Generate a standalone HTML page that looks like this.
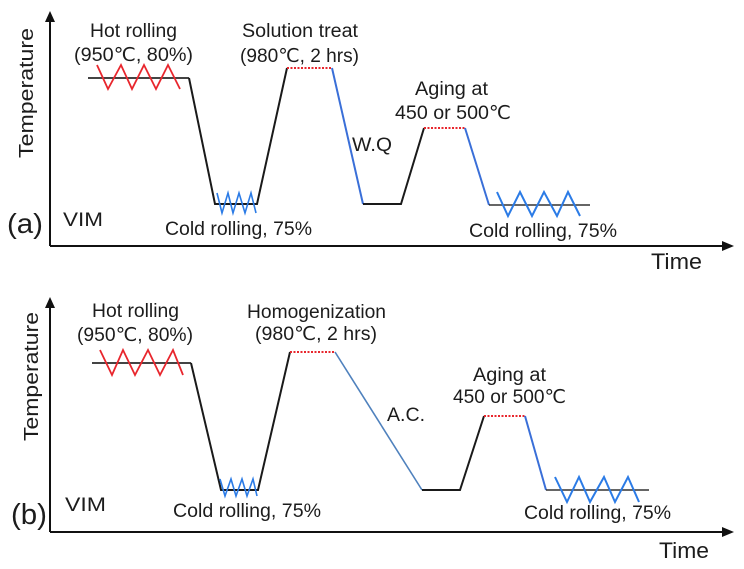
<!DOCTYPE html>
<html>
<head>
<meta charset="utf-8">
<style>
  html, body { margin: 0; padding: 0; background: #ffffff; }
  svg { display: block; }
  text { font-family: "Liberation Sans", "DejaVu Sans", "Noto Sans CJK SC", sans-serif; fill: #1c1c1c; }
</style>
</head>
<body>
<svg width="744" height="569" viewBox="0 0 744 569" xmlns="http://www.w3.org/2000/svg">
  <rect x="0" y="0" width="744" height="569" fill="#ffffff"/>

  <!-- ============ PANEL (a) ============ -->
  <!-- axes -->
  <line x1="50" y1="246" x2="50" y2="20" stroke="#111" stroke-width="2"/>
  <polygon points="50,11 45,22 55,22" fill="#111"/>
  <line x1="50" y1="246" x2="724" y2="246" stroke="#111" stroke-width="2"/>
  <polygon points="734,246 722,241 722,251" fill="#111"/>

  <!-- hot rolling plateau -->
  <line x1="88" y1="78" x2="189" y2="78" stroke="#2a2a2a" stroke-width="1.8"/>
  <polyline points="97,65 108,89 121,65 132,89 144,65 156,89 168,65 180,89" fill="none" stroke="#e8262d" stroke-width="1.8"/>
  <!-- black path -->
  <polyline points="189,78 215,204 257,204 287,68" fill="none" stroke="#1a1a1a" stroke-width="2"/>
  <polyline points="217,193 222,213 228,193 233,213 239,193 245,213 251,193 256,213" fill="none" stroke="#2b7be6" stroke-width="1.6"/>
  <line x1="287" y1="68" x2="332" y2="68" stroke="#e8262d" stroke-width="2" stroke-dasharray="2 1.5"/>
  <line x1="332" y1="68" x2="363" y2="204" stroke="#3a6fd8" stroke-width="2"/>
  <polyline points="363,204 401,204 424,128" fill="none" stroke="#1a1a1a" stroke-width="2"/>
  <line x1="424" y1="128" x2="465" y2="128" stroke="#e8262d" stroke-width="2" stroke-dasharray="2 1.5"/>
  <line x1="465" y1="128" x2="489" y2="205" stroke="#3a6fd8" stroke-width="2"/>
  <line x1="489" y1="205" x2="590" y2="205" stroke="#333" stroke-width="1.5"/>
  <polyline points="497,192 508,216 520,192 532,216 544,192 557,216 568,192 580,216" fill="none" stroke="#2b7be6" stroke-width="2"/>

  <!-- labels (a) -->
  <text x="33" y="158" font-size="20" transform="rotate(-90 33 158)" textLength="130" lengthAdjust="spacingAndGlyphs">Temperature</text>
  <text x="7" y="233" font-size="28" textLength="36" lengthAdjust="spacingAndGlyphs">(a)</text>
  <text x="63" y="226" font-size="19" textLength="40" lengthAdjust="spacingAndGlyphs">VIM</text>
  <text x="90" y="37" font-size="19" textLength="87" lengthAdjust="spacingAndGlyphs">Hot rolling</text>
  <text x="74" y="61" font-size="19" textLength="119" lengthAdjust="spacingAndGlyphs">(950℃, 80%)</text>
  <text x="242" y="37" font-size="19" textLength="116" lengthAdjust="spacingAndGlyphs">Solution treat</text>
  <text x="240" y="62" font-size="19" textLength="119" lengthAdjust="spacingAndGlyphs">(980℃, 2 hrs)</text>
  <text x="352" y="151" font-size="19" textLength="40" lengthAdjust="spacingAndGlyphs">W.Q</text>
  <text x="415" y="95" font-size="19" textLength="73" lengthAdjust="spacingAndGlyphs">Aging at</text>
  <text x="395" y="119" font-size="19" textLength="116" lengthAdjust="spacingAndGlyphs">450 or 500℃</text>
  <text x="165" y="235" font-size="19" textLength="147" lengthAdjust="spacingAndGlyphs">Cold rolling, 75%</text>
  <text x="469" y="237" font-size="19" textLength="148" lengthAdjust="spacingAndGlyphs">Cold rolling, 75%</text>
  <text x="651" y="269" font-size="22" textLength="51" lengthAdjust="spacingAndGlyphs">Time</text>

  <!-- ============ PANEL (b) ============ -->
  <line x1="50" y1="532" x2="50" y2="306" stroke="#111" stroke-width="2"/>
  <polygon points="50,297 45,308 55,308" fill="#111"/>
  <line x1="50" y1="532" x2="724" y2="532" stroke="#111" stroke-width="2"/>
  <polygon points="734,532 722,527 722,537" fill="#111"/>

  <line x1="92" y1="363" x2="191" y2="363" stroke="#2a2a2a" stroke-width="1.8"/>
  <polyline points="100,350 112,375 123,350 135,375 148,350 160,375 173,350 183,375" fill="none" stroke="#e8262d" stroke-width="1.8"/>
  <polyline points="191,363 221,490 258,490 290,352" fill="none" stroke="#1a1a1a" stroke-width="2"/>
  <polyline points="220,479 225,496 231,479 236,496 242,479 247,496 253,479 257,496" fill="none" stroke="#2b7be6" stroke-width="1.6"/>
  <line x1="290" y1="352" x2="335" y2="352" stroke="#e8262d" stroke-width="2" stroke-dasharray="2 1.5"/>
  <line x1="335" y1="352" x2="422" y2="490" stroke="#4f81bd" stroke-width="1.6"/>
  <polyline points="422,490 460,490 484,416" fill="none" stroke="#1a1a1a" stroke-width="2"/>
  <line x1="484" y1="416" x2="525" y2="416" stroke="#e8262d" stroke-width="2" stroke-dasharray="2 1.5"/>
  <line x1="525" y1="416" x2="546" y2="490" stroke="#3a6fd8" stroke-width="2"/>
  <line x1="546" y1="490" x2="649" y2="490" stroke="#333" stroke-width="1.5"/>
  <polyline points="555,477 567,502 579,477 590,502 604,477 615,502 628,477 639,502" fill="none" stroke="#2b7be6" stroke-width="2"/>

  <!-- labels (b) -->
  <text x="38" y="441" font-size="20" transform="rotate(-90 38 441)" textLength="129" lengthAdjust="spacingAndGlyphs">Temperature</text>
  <text x="11" y="524" font-size="29" textLength="36" lengthAdjust="spacingAndGlyphs">(b)</text>
  <text x="65" y="511" font-size="19" textLength="41" lengthAdjust="spacingAndGlyphs">VIM</text>
  <text x="92" y="317" font-size="19" textLength="87" lengthAdjust="spacingAndGlyphs">Hot rolling</text>
  <text x="77" y="341" font-size="19" textLength="116" lengthAdjust="spacingAndGlyphs">(950℃, 80%)</text>
  <text x="247" y="318" font-size="19" textLength="139" lengthAdjust="spacingAndGlyphs">Homogenization</text>
  <text x="255" y="340" font-size="19" textLength="122" lengthAdjust="spacingAndGlyphs">(980℃, 2 hrs)</text>
  <text x="387" y="421" font-size="19" textLength="38" lengthAdjust="spacingAndGlyphs">A.C.</text>
  <text x="473" y="381" font-size="19" textLength="73" lengthAdjust="spacingAndGlyphs">Aging at</text>
  <text x="453" y="403" font-size="19" textLength="113" lengthAdjust="spacingAndGlyphs">450 or 500℃</text>
  <text x="173" y="517" font-size="19" textLength="148" lengthAdjust="spacingAndGlyphs">Cold rolling, 75%</text>
  <text x="524" y="519" font-size="19" textLength="147" lengthAdjust="spacingAndGlyphs">Cold rolling, 75%</text>
  <text x="659" y="558" font-size="22" textLength="50" lengthAdjust="spacingAndGlyphs">Time</text>
</svg>
</body>
</html>
